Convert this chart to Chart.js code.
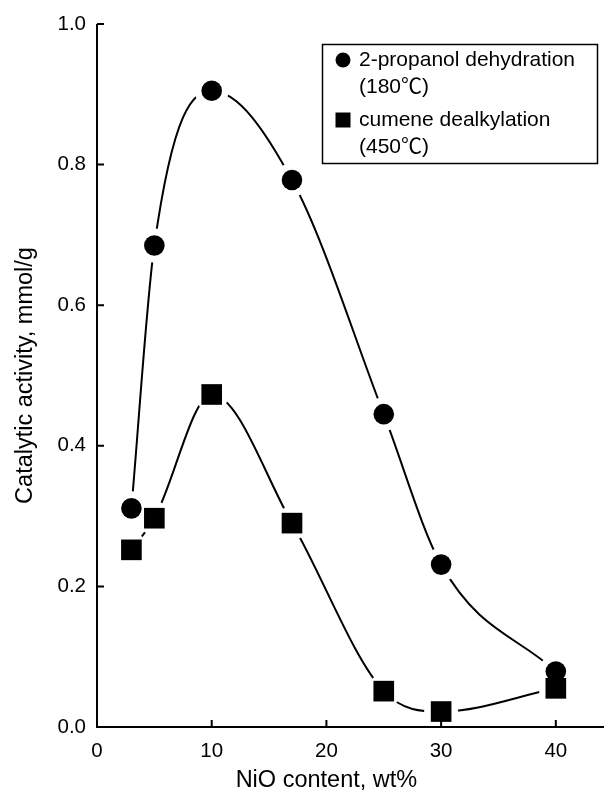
<!DOCTYPE html>
<html>
<head>
<meta charset="utf-8">
<script src="https://cdn.jsdelivr.net/npm/chart.js@4.4.1/dist/chart.umd.min.js"></script>
<style>
  html, body { margin: 0; padding: 0; background: #fff; }
  #wrap { width: 604px; height: 794px; }
</style>
</head>
<body>
<div id="wrap"><canvas id="chart" width="604" height="794"></canvas></div>
<script>
// NiO content of each catalyst, wt%
const nioContent = [3, 5, 10, 17, 25, 30, 40];
// 2-propanol dehydration (180℃), mmol/g
const propanolActivity = [0.311, 0.685, 0.905, 0.778, 0.445, 0.231, 0.079];
// cumene dealkylation (450℃), mmol/g
const cumeneActivity = [0.252, 0.297, 0.473, 0.290, 0.051, 0.022, 0.055];

const xTicks = [0, 10, 20, 30, 40];
const yTicks = [0.0, 0.2, 0.4, 0.6, 0.8, 1.0];

const xTitle = 'NiO content, wt%';
const yTitle = 'Catalytic activity, mmol/g';
const legendRows = [
  { marker: 'circle', lines: ['2-propanol dehydration', '(180℃)'] },
  { marker: 'rect', lines: ['cumene dealkylation', '(450℃)'] }
];

const FONT = '"Liberation Sans", Arial, "Noto Sans CJK SC", sans-serif';

function toPoints(values) {
  return nioContent.map((x, i) => ({ x: x, y: values[i] }));
}

// smooth curve through the points (drawn first, under the markers)
function curve(values) {
  return {
    type: 'line',
    data: toPoints(values),
    borderColor: '#000',
    borderWidth: 2,
    pointRadius: 0,
    fill: false,
    cubicInterpolationMode: 'monotone',
    order: 5
  };
}

// white disc around each marker, leaves the gap in the curve
function halo(values) {
  return {
    type: 'scatter',
    data: toPoints(values),
    pointRadius: 17,
    pointBackgroundColor: '#fff',
    pointBorderWidth: 0,
    order: 3
  };
}

function markers(values, style, radius) {
  return {
    type: 'scatter',
    data: toPoints(values),
    pointStyle: style,
    pointRadius: radius,
    pointBackgroundColor: '#000',
    pointBorderColor: '#000',
    pointBorderWidth: 0,
    order: 1
  };
}

// axes with inner ticks, x title and the boxed legend
const frame = {
  id: 'frame',
  afterDatasetsDraw(chart) {
    const { ctx, chartArea, scales } = chart;
    const x = scales.x, y = scales.y;
    const left = chartArea.left, bottom = chartArea.bottom;
    ctx.save();
    ctx.strokeStyle = '#000';
    ctx.lineWidth = 2;
    ctx.beginPath();
    ctx.moveTo(left, y.getPixelForValue(yTicks[yTicks.length - 1]));
    ctx.lineTo(left, bottom);
    ctx.lineTo(chartArea.right, bottom);
    yTicks.forEach(v => {
      if (v === 0) return;
      const py = y.getPixelForValue(v);
      ctx.moveTo(left, py);
      ctx.lineTo(left + 7, py);
    });
    xTicks.forEach(v => {
      if (v === 0) return;
      const px = x.getPixelForValue(v);
      ctx.moveTo(px, bottom);
      ctx.lineTo(px, bottom - 7);
    });
    ctx.stroke();

    ctx.fillStyle = '#000';
    ctx.font = '23.5px ' + FONT;
    ctx.textAlign = 'center';
    ctx.textBaseline = 'middle';
    const cx = (x.getPixelForValue(xTicks[0]) + x.getPixelForValue(xTicks[xTicks.length - 1])) / 2;
    ctx.fillText(xTitle, cx, 781);

    // legend
    ctx.lineWidth = 1.5;
    ctx.strokeRect(322.5, 44.5, 275, 119);
    ctx.font = '21px ' + FONT;
    ctx.textAlign = 'left';
    legendRows.forEach((row, i) => {
      const top = 60 + i * 60;
      if (row.marker === 'circle') {
        ctx.beginPath();
        ctx.arc(343, top, 7.5, 0, Math.PI * 2);
        ctx.fill();
      } else {
        ctx.fillRect(335.5, top - 7.5, 15, 15);
      }
      row.lines.forEach((t, j) => ctx.fillText(t, 359, top + j * 27));
    });
    ctx.restore();
  }
};

new Chart(document.getElementById('chart'), {
  type: 'scatter',
  data: {
    datasets: [
      curve(propanolActivity),
      curve(cumeneActivity),
      halo(propanolActivity),
      halo(cumeneActivity),
      markers(propanolActivity, 'circle', 10.3),
      markers(cumeneActivity, 'rect', 14.6)
    ]
  },
  options: {
    responsive: false,
    animation: false,
    devicePixelRatio: 1,
    layout: { autoPadding: false, padding: { top: 24, right: 0, left: 0, bottom: 0 } },
    plugins: { legend: { display: false }, tooltip: { enabled: false } },
    scales: {
      x: {
        type: 'linear',
        min: 0,
        max: 44.2,
        afterBuildTicks: s => { s.ticks = xTicks.map(v => ({ value: v })); },
        afterFit: s => { s.height = 67; s.paddingLeft = 0; s.paddingRight = 0; },
        grid: { display: false, drawTicks: false },
        border: { display: false },
        ticks: {
          color: '#000',
          font: { family: FONT, size: 20.5 },
          padding: 12,
          maxRotation: 0
        }
      },
      y: {
        type: 'linear',
        min: 0,
        max: 1,
        afterBuildTicks: s => { s.ticks = yTicks.map(v => ({ value: v })); },
        afterFit: s => { s.width = 97; s.paddingTop = 0; s.paddingBottom = 0; },
        grid: { display: false, drawTicks: false },
        border: { display: false },
        ticks: {
          color: '#000',
          font: { family: FONT, size: 20.5 },
          padding: 11,
          callback: v => v.toFixed(1)
        },
        title: {
          display: true,
          text: yTitle,
          color: '#000',
          font: { family: FONT, size: 23.5 },
          padding: { top: 11, bottom: 0 }
        }
      }
    }
  },
  plugins: [frame]
});
</script>
</body>
</html>
